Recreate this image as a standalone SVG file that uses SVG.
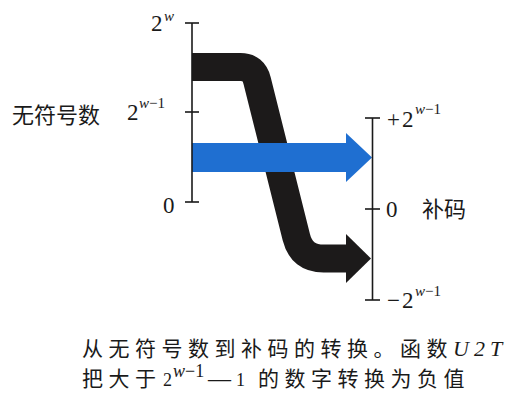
<svg xmlns="http://www.w3.org/2000/svg" width="514" height="407" viewBox="0 0 514 407">
  <style>
    .axis { stroke: #1a1a1a; stroke-width: 1.6; fill: none; }
    .m { font-family: "Liberation Serif", "Times New Roman", serif; font-size: 23px; fill: #1a1a1a; }
    .sup { font-family: "Liberation Serif", "Times New Roman", serif; font-size: 15px; font-style: italic; fill: #1a1a1a; }
    .supn { font-style: normal; }
    .cjk { font-family: "Noto Sans CJK SC", "Noto Sans", sans-serif; font-size: 22px; fill: #1a1a1a; }
    .cap { font-family: "Noto Sans CJK SC", "Noto Sans", sans-serif; font-size: 21px; letter-spacing: 5.5px; fill: #1a1a1a; }
    .capm { font-family: "Liberation Serif", "Times New Roman", serif; font-size: 18px; fill: #1a1a1a; }
  </style>
  <rect width="514" height="407" fill="#ffffff"/>

  <g id="connectors">
    <g id="arrow-black">
      <path d="M192,67 H240.5 Q253.75,67 257.1,80.6 L296.3,237.2 Q301.6,258.5 323.6,258.5 H347.5" fill="none" stroke="#1c1a1a" stroke-width="28" stroke-linejoin="round"/>
      <polygon points="346,234 371,258.5 346,283" fill="#1c1a1a"/>
    </g>
    <g id="arrow-blue">
      <rect x="192" y="143" width="155" height="29" fill="#1f6fd1"/>
      <polygon points="346,133 372,157.5 346,182" fill="#1f6fd1"/>
    </g>
  </g>

  <g id="axis-unsigned">
    <line class="axis" x1="192" y1="23" x2="192" y2="202"/>
    <line class="axis" x1="185" y1="23" x2="199" y2="23"/>
    <line class="axis" x1="185" y1="112" x2="199" y2="112"/>
    <line class="axis" x1="185" y1="202" x2="199" y2="202"/>
    <text class="m" x="151" y="31">2</text>
    <text class="sup" x="164" y="21">w</text>
    <text class="m" x="127" y="120">2</text>
    <text class="sup" x="139" y="108">w<tspan class="supn">−1</tspan></text>
    <text class="m" x="163" y="213">0</text>
    <text class="cjk" x="12" y="123">无符号数</text>
  </g>

  <g id="axis-twos">
    <line class="axis" x1="372.5" y1="118" x2="372.5" y2="300"/>
    <line class="axis" x1="365" y1="118" x2="380" y2="118"/>
    <line class="axis" x1="365" y1="209" x2="380" y2="209"/>
    <line class="axis" x1="365" y1="300" x2="380" y2="300"/>
    <text class="m" x="387" y="127">+</text>
    <text class="m" x="402" y="127">2</text>
    <text class="sup" x="415" y="114">w<tspan class="supn">−1</tspan></text>
    <text class="m" x="386" y="217">0</text>
    <text class="cjk" x="422" y="217">补码</text>
    <text class="m" x="387" y="308">−</text>
    <text class="m" x="402" y="308">2</text>
    <text class="sup" x="415" y="296">w<tspan class="supn">−1</tspan></text>
  </g>

  <g id="caption">
    <text class="cap" x="82" y="355.5">从无符号数到补码的转换。函数</text>
    <text x="453" y="355.5" font-family="Liberation Serif, serif" font-size="22" font-style="italic" letter-spacing="5" fill="#1a1a1a">U2T</text>
    <text class="cap" x="82" y="386">把大于</text>
    <text class="capm" x="163" y="386">2</text>
    <text class="capm" x="173" y="377" font-size="11" font-style="italic">w<tspan font-style="normal">−1</tspan></text>
    <text class="m" x="208" y="386">—</text>
    <text class="capm" x="236" y="386">1</text>
    <text class="cap" x="258" y="386">的数字转换为负值</text>
  </g>
</svg>
